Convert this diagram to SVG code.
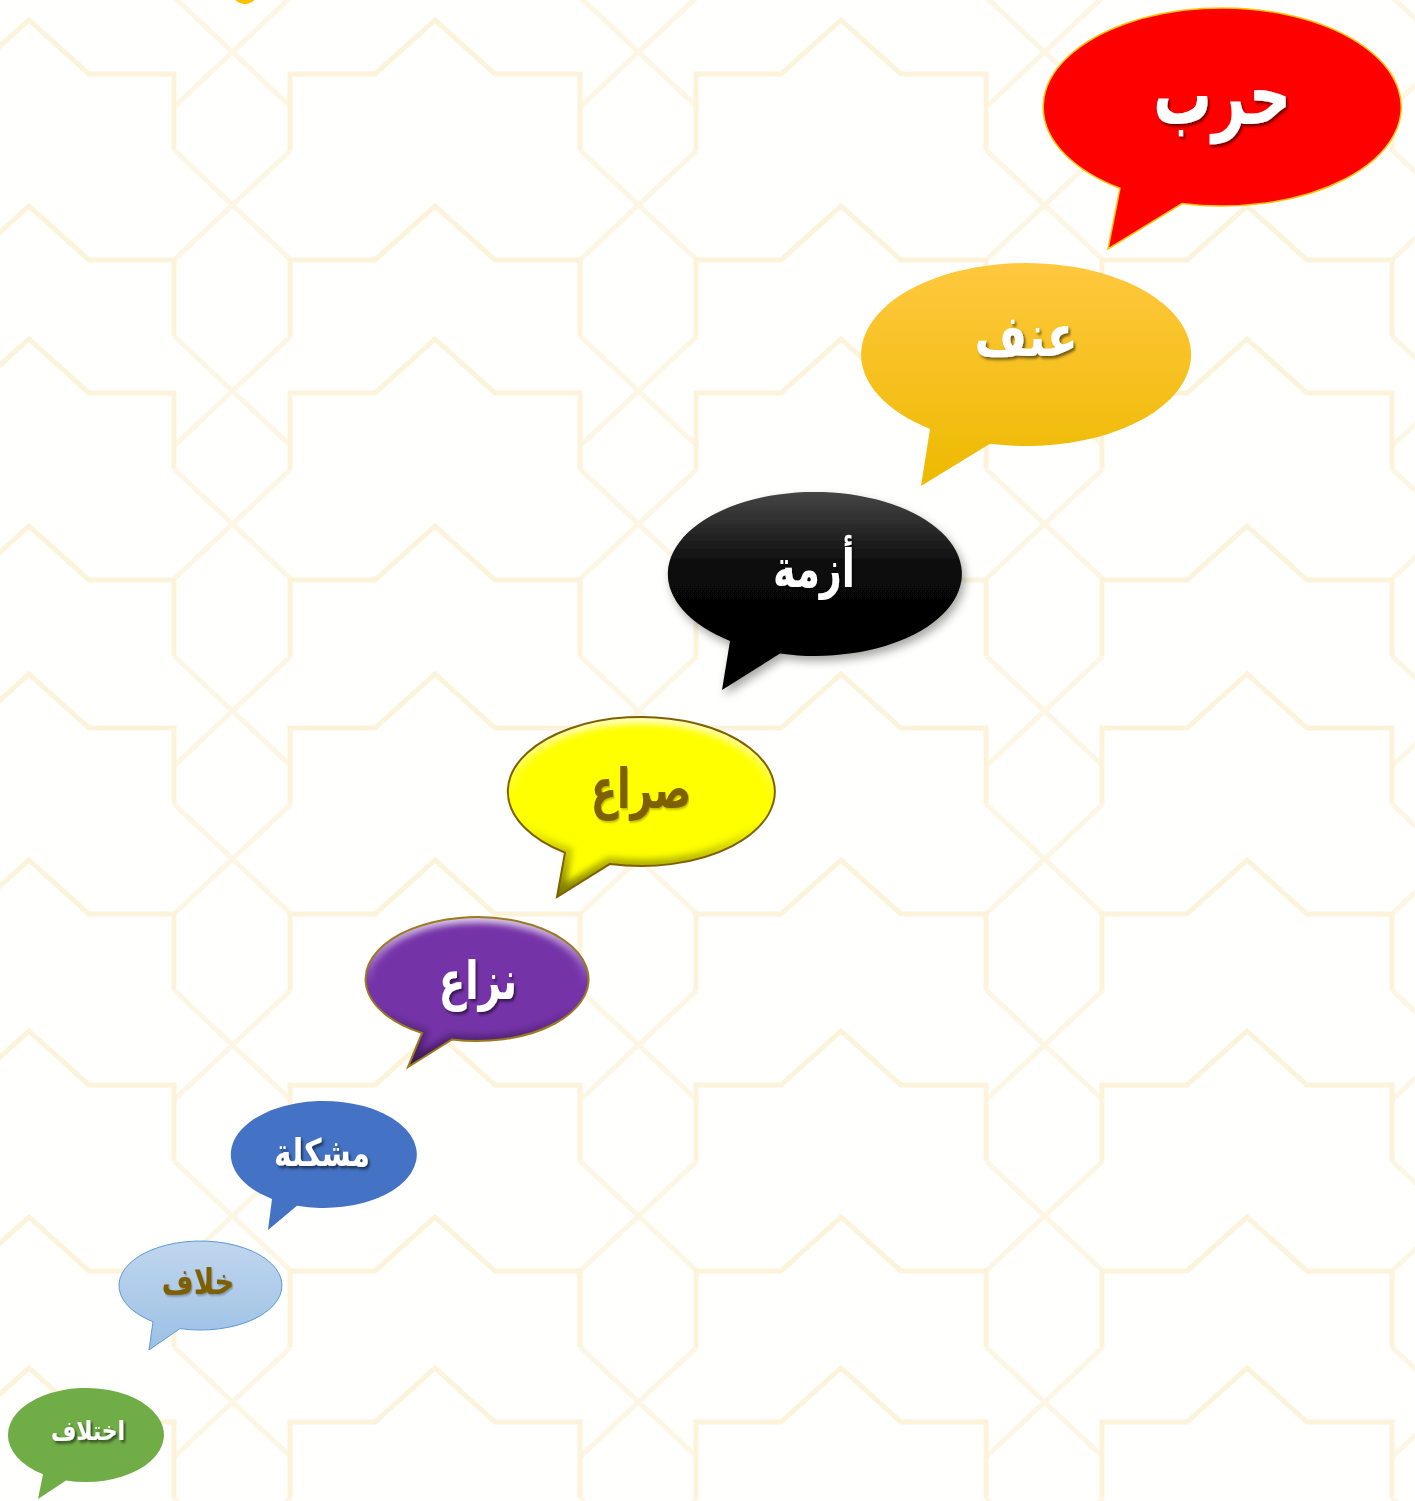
<svg xmlns="http://www.w3.org/2000/svg" width="1415" height="1501" viewBox="0 0 1415 1501">
<style>
.bg{fill:none;stroke:#FCF3DA;stroke-width:5;stroke-linejoin:miter}
.bgx{fill:none;stroke:#FDF6E4;stroke-width:5}
.t{font-family:"DejaVu Sans",sans-serif;font-weight:bold;text-anchor:middle}
.tw{fill:#FFFFFF;filter:url(#tsh)}
.tb{fill:#7F6000;filter:url(#tsh2)}
</style>
<defs>
<filter id="tsh" x="-20%" y="-20%" width="140%" height="140%"><feDropShadow dx="2.5" dy="2.5" stdDeviation="1.5" flood-color="#000" flood-opacity="0.55"/></filter>
<filter id="tsh2" x="-20%" y="-20%" width="140%" height="140%"><feDropShadow dx="1.5" dy="1.5" stdDeviation="1" flood-color="#000" flood-opacity="0.3"/></filter>
<filter id="bsh" x="-20%" y="-20%" width="140%" height="150%"><feDropShadow dx="3" dy="5" stdDeviation="5" flood-color="#000" flood-opacity="0.35"/></filter>
<filter id="blur3"><feGaussianBlur stdDeviation="3"/></filter>
<linearGradient id="gGold" x1="0" y1="0" x2="0" y2="1"><stop offset="0" stop-color="#FFC83F"/><stop offset="1" stop-color="#EDBA00"/></linearGradient>
<linearGradient id="gBlack" x1="0" y1="0" x2="0" y2="1"><stop offset="0" stop-color="#454545"/><stop offset="0.4" stop-color="#080808"/><stop offset="1" stop-color="#000"/></linearGradient>
<linearGradient id="gLight" x1="0" y1="0" x2="0" y2="1"><stop offset="0" stop-color="#C0D6EE"/><stop offset="1" stop-color="#9CC0E5"/></linearGradient>
<linearGradient id="gBevel" x1="0" y1="0" x2="0" y2="1"><stop offset="0" stop-color="#FFFFFF" stop-opacity="0.75"/><stop offset="0.45" stop-color="#FFFFFF" stop-opacity="0"/><stop offset="0.6" stop-color="#000000" stop-opacity="0"/><stop offset="1" stop-color="#000000" stop-opacity="0.55"/></linearGradient>
<g id="unit">
<path class="bg" d="M-145,76 L-145,0 L-60,0 L0,-54 L60,0 L145,0 L145,76"/>
<path class="bgx" d="M145,76 L262,186 M262,76 L145,186"/>
</g>
<g id="row">
<use href="#unit" x="-377"/><use href="#unit" x="29"/><use href="#unit" x="435"/><use href="#unit" x="841"/><use href="#unit" x="1247"/>
</g>
<path id="pYellow" d="M610,863.9 A133.5,74.5 0 1 0 565,852.6 L557,897 Z"/>
<path id="pPurple" d="M452,1039.5 A111.5,62 0 1 0 422,1033 L408,1067 Z"/>
<clipPath id="cYellow"><use href="#pYellow"/></clipPath>
<clipPath id="cPurple"><use href="#pPurple"/></clipPath>
</defs>
<rect width="1415" height="1501" fill="#FFFFFE"/>
<g id="background">
<use href="#row" y="-79"/><use href="#row" y="74"/><use href="#row" y="260"/><use href="#row" y="393"/><use href="#row" y="580"/><use href="#row" y="728"/><use href="#row" y="914"/><use href="#row" y="1085"/><use href="#row" y="1271"/><use href="#row" y="1422"/>
<circle cx="245" cy="-9" r="13" fill="#FFC000"/>
</g>
<g id="connectors"></g>
<g id="n-harb">
<path d="M1182,203.5 A179,99 0 1 0 1120,188.3 L1108,249 Z" fill="#FF0000" stroke="#FFC000" stroke-width="1.5"/>
<text class="t tw" transform="translate(1222,124) scale(0.7,1)" font-size="84">حرب</text>
</g>
<g id="n-onf">
<path d="M990,443.8 A165,91.5 0 1 0 930,428.9 L921,486 Z" fill="url(#gGold)"/>
<text class="t tw" transform="translate(1026,356) scale(0.78,1)" font-size="58">عنف</text>
</g>
<g id="n-azma">
<path d="M780,653.6 A147,82 0 1 0 730,640.9 L722,690 Z" fill="url(#gBlack)" filter="url(#bsh)"/>
<text class="t tw" transform="translate(814,587) scale(0.72,1)" font-size="53">أزمة</text>
</g>
<g id="n-siraa">
<use href="#pYellow" fill="#FFFF00"/>
<use href="#pYellow" fill="none" stroke="url(#gBevel)" stroke-width="14" clip-path="url(#cYellow)" filter="url(#blur3)"/>
<use href="#pYellow" fill="none" stroke="#806000" stroke-width="2"/>
<text class="t tb" transform="translate(641,808) scale(0.7,1)" font-size="55">صراع</text>
</g>
<g id="n-nizaa">
<use href="#pPurple" fill="#7533A8"/>
<use href="#pPurple" fill="none" stroke="url(#gBevel)" stroke-width="12" clip-path="url(#cPurple)" filter="url(#blur3)"/>
<use href="#pPurple" fill="none" stroke="#9C7A1E" stroke-width="2"/>
<text class="t tw" transform="translate(478,999) scale(0.73,1)" font-size="53">نزاع</text>
</g>
<g id="n-mushkila">
<path d="M297,1205.7 A93,53.5 0 1 0 272,1198.9 L268,1230 Z" fill="#4472C4"/>
<text class="t tw" transform="translate(322,1166) scale(0.78,1)" font-size="38">مشكلة</text>
</g>
<g id="n-khilaf">
<path d="M180,1328.6 A81.5,44.5 0 1 0 153,1321.7 L149,1350 Z" fill="url(#gLight)" stroke="#5B9BD5" stroke-width="1"/>
<text class="t tb" transform="translate(198,1294) scale(0.76,1)" font-size="36">خلاف</text>
</g>
<g id="n-ikhtilaf">
<path d="M66,1480.4 A78,47 0 1 0 43,1474.2 L38,1499 Z" fill="#70AD47"/>
<text class="t tw" transform="translate(88,1440) scale(0.81,1)" font-size="27">اختلاف</text>
</g>
</svg>
